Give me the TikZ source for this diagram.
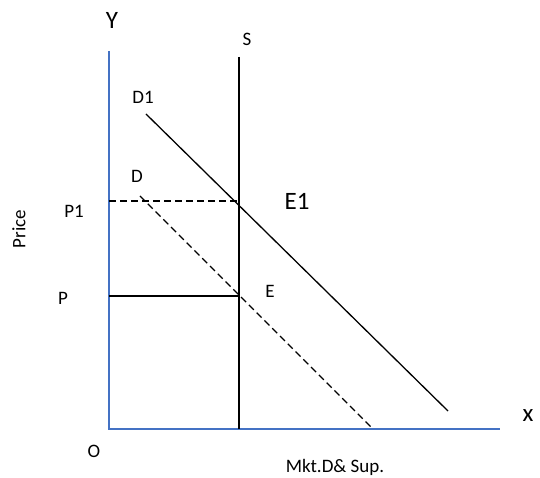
\documentclass[tikz,border=0pt]{standalone}
\usepackage{fontspec}
\setmainfont{Carlito}
\definecolor{axisblue}{RGB}{68,114,196}
\tikzset{
  lbl/.style={font=\fontsize{19}{22}\selectfont},
  biglbl/.style={font=\fontsize{25}{28}\selectfont},
  dashedline/.style={black, line width=1.3pt, dash pattern=on 7pt off 4pt},
}
\begin{document}
\begin{tikzpicture}[x=1pt,y=1pt]
            \useasboundingbox (-109,-49) rectangle (431,429);

            % key points
            \coordinate (O) at (0,0);
            \coordinate (ytop) at (0,378);
            \coordinate (xend) at (391,0);
            \coordinate (stop) at (130,372);
            \coordinate (sbot) at (130,0);
            \coordinate (d1a) at (37,315);
            \coordinate (d1b) at (339,18);
            \coordinate (da) at (31,233);
            \coordinate (db) at (264,0);
            \coordinate (p1a) at (0,228);
            \coordinate (p1b) at (130,228);
            \coordinate (pa) at (0,133);
            \coordinate (pb) at (130,133);

            % Draw axes
            \draw[axisblue, line width=1.4pt] (ytop) -- (O) -- (xend);

            % Draw supply line
            \draw[black, line width=2.2pt] (stop) -- (sbot);

            % Draw demand curves
            \draw[black, line width=1.3pt] (d1a) -- (d1b);
            \draw[dashedline] (da) -- (db);

            % Draw price lines
            \draw[dashedline] (p1a) -- (p1b);
            \draw[black, line width=1.3pt] (pa) -- (pb);

            % Add labels
            \node[biglbl] (ylab) at (3,409) {Y};
            \node[biglbl] (xlab) at (419,13) {x};
            \node[biglbl] (e1lab) at (188,228) {E1};
            \node[lbl] (slab) at (138,390) {S};
            \node[lbl] (d1lab) at (34,332) {D1};
            \node[lbl] (dlab) at (28,253) {D};
            \node[lbl] (elab) at (161,138) {E};
            \node[lbl] (p1lab) at (-35,218) {P1};
            \node[lbl] (plab) at (-46,131) {P};
            \node[lbl] (olab) at (-15,-22) {O};
            \node[lbl, rotate=90] (pricelab) at (-90,200) {Price};
            \node[lbl] (qlab) at (226,-38) {Mkt.D\& Sup.};
\end{tikzpicture}
\end{document}
